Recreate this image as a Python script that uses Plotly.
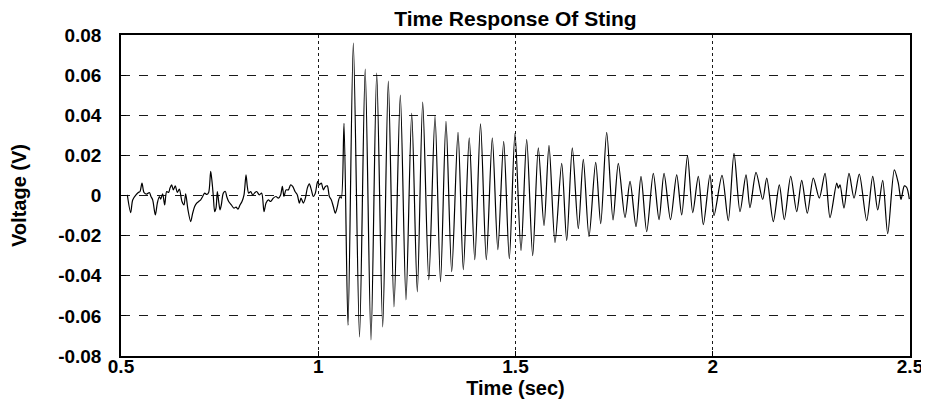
import plotly.graph_objects as go

# Time (s) and voltage (V)
time_noise = [0.516, 0.5245, 0.5296, 0.538, 0.5439, 0.5482, 0.5532, 0.5583, 0.5651, 0.5718,
              0.576, 0.5803, 0.587, 0.5921, 0.5972, 0.6006, 0.6056, 0.6107, 0.6158, 0.6208,
              0.6242, 0.6284, 0.6327, 0.6377, 0.6428, 0.6479, 0.6546, 0.6597, 0.6639, 0.6698,
              0.6766, 0.6817, 0.6867, 0.6918, 0.6969, 0.702, 0.707, 0.7121, 0.7172, 0.7222,
              0.7273, 0.7307, 0.7341, 0.7374, 0.7408, 0.7442, 0.7476, 0.751, 0.7543, 0.7594,
              0.7645, 0.7679, 0.7729, 0.7797, 0.7864, 0.7915, 0.7966, 0.8017, 0.8067, 0.8118,
              0.8169, 0.8202, 0.8236, 0.8287, 0.8338, 0.8397,
              0.8439, 0.8507, 0.8566, 0.8625, 0.8676, 0.8735, 0.8794, 0.8861, 0.8929, 0.8988,
              0.9047, 0.909, 0.9132, 0.9183, 0.9242, 0.9301, 0.9352, 0.9411, 0.947, 0.9521,
              0.9563, 0.9622, 0.9673, 0.9723, 0.9774, 0.9825, 0.9876, 0.9926, 0.9985, 1.0028,
              1.0078, 1.0129, 1.018, 1.023, 1.0281, 1.0332, 1.0382, 1.0433, 1.0484, 1.0518,
              1.0551, 1.0585]
volt_noise = [0.0003, -0.0085, -0.0022, 0.0003, 0.0015, 0.002, 0.0062, 0.0015, 0.0007, 0.0015,
              -0.0005, -0.0022, -0.0097, -0.0038, -0.0005, -0.0018, 0.0008, -0.0047, 0.002, 0.0015,
              0.0037, 0.0053, 0.0028, 0.0048, 0.0015, 0.0032, -0.003, -0.0047, 0.0008, -0.0072,
              -0.013, -0.0088, -0.0055, -0.0038, -0.003, -0.0022, -0.0005, 0.0012, 0.0005, 0.0015,
              0.012, 0.007, -0.0005, -0.008, -0.0063, 0.002, -0.003, -0.0072, -0.0047, 0.0012,
              0.002, -0.0005, -0.003, -0.0047, -0.0063, -0.0058, -0.0068, -0.0047, -0.003, 0.0003,
              0.0103, 0.0045, 0.0012, 0.002, 0.0003, 0.0015,
              0.002, 0.0003, 0.0012, -0.008, -0.0038, -0.0022, -0.003, -0.0013, -0.0005, -0.0013,
              0.0003, 0.0045, -0.0005, 0.0028, 0.0028, 0.0053, 0.0045, 0.002, 0.0003, -0.0038,
              -0.0013, -0.0038, -0.0013, 0.0037, 0.0058, 0.0028, -0.0005, 0.0012, 0.007, 0.0053,
              0.0062, 0.0028, 0.0045, 0.0048, -0.0005, -0.0022, -0.0055, -0.0088, -0.0055, -0.0022,
              -0.0005, -0.0013]

time_ring = [1.0653, 1.0754, 1.0889, 1.1046, 1.119, 1.1337, 1.1482, 1.1634, 1.1776, 1.192,
             1.208, 1.2224, 1.2369, 1.2511, 1.2648, 1.2802, 1.296, 1.3099, 1.3238, 1.3383,
             1.3543, 1.3677, 1.3827, 1.3968, 1.4113, 1.426, 1.4412, 1.4552, 1.4701, 1.4843,
             1.4987, 1.514, 1.5284, 1.5436, 1.5578, 1.5723, 1.5849, 1.6001, 1.6171, 1.6298,
             1.644, 1.6592, 1.6719, 1.6863, 1.7033, 1.716, 1.7312, 1.7472, 1.7606, 1.7776,
             1.7903, 1.8055, 1.8181, 1.8326, 1.8493, 1.8638, 1.8765, 1.8929, 1.9086, 1.9213,
             1.936, 1.9492, 1.9634, 1.9761, 1.993, 2.0032, 2.0235, 2.0394, 2.0539, 2.0691,
             2.0843, 2.0944, 2.1097, 2.1266, 2.1368, 2.1535, 2.1687, 2.1814, 2.1976, 2.2128,
             2.2255, 2.2397, 2.2549, 2.2701, 2.2846, 2.2972, 2.3142, 2.3183, 2.3226, 2.3327,
             2.3454, 2.3581, 2.3715, 2.3903, 2.4055, 2.4182, 2.4308, 2.4435, 2.4603, 2.4704,
             2.4772, 2.4856, 2.4917, 2.4983]
volt_ring = [0.036, -0.0647, 0.076, -0.0705, 0.063, -0.072, 0.061, -0.0655, 0.057, -0.0555,
             0.050, -0.052, 0.041, -0.048, 0.0465, -0.042, 0.0395, -0.043, 0.037, -0.038,
             0.0315, -0.037, 0.0287, -0.032, 0.0357, -0.032, 0.0287, -0.027, 0.027, -0.0315,
             0.031, -0.0275, 0.028, -0.030, 0.0237, -0.015, 0.025, -0.0235, 0.016, -0.0225,
             0.0237, -0.0165, 0.018, -0.0205, 0.0165, -0.014, 0.0315, -0.0122, 0.016, -0.011,
             0.007, -0.0155, 0.0095, -0.018, 0.011, -0.012, 0.011, -0.012, 0.0103, -0.0097,
             0.0198, -0.0085, 0.0095, -0.0145, 0.0103, -0.010, 0.010, -0.0125, 0.021, -0.008,
             0.0103, -0.006, 0.0115, -0.002, 0.0087, -0.013, 0.0053, -0.012, 0.0095, -0.008,
             0.0075, -0.0088, 0.0087, -0.0013, 0.011, -0.011, 0.0062, 0.0037, 0.0053, -0.0063,
             0.011, -0.0013, 0.0107, -0.0125, 0.0095, -0.0072, 0.0075, -0.019, 0.0128, 0.0062,
             -0.002, 0.0048, 0.004, -0.0018]

x_ticks = [0.5, 1, 1.5, 2, 2.5]
x_tick_labels = ["0.5", "1", "1.5", "2", "2.5"]
y_ticks = [-0.08, -0.06, -0.04, -0.02, 0, 0.02, 0.04, 0.06, 0.08]
y_tick_labels = ["-0.08", "-0.06", "-0.04", "-0.02", "0", "0.02", "0.04", "0.06", "0.08"]

time = time_noise + time_ring
volt = volt_noise + volt_ring

FONT = "Liberation Sans, Arial, sans-serif"
tick_font = dict(family=FONT, size=19, color="black", weight="bold")

fig = go.Figure()
fig.add_trace(go.Scatter(x=time, y=volt, mode="lines",
                         line=dict(color="black", width=1.2, shape="spline", smoothing=0.8),
                         showlegend=False, hoverinfo="skip"))

axis_common = dict(showline=True, linecolor="black", linewidth=1.5, mirror=True,
                   ticks="inside", ticklen=5, tickcolor="black", zeroline=False,
                   showgrid=True, gridcolor="#1a1a1a", gridwidth=1,
                   automargin=False, tickfont=tick_font)

fig.update_xaxes(range=[0.5, 2.5], tickvals=x_ticks, ticktext=x_tick_labels,
                 griddash="dot", ticklabelstandoff=-8,
                 title=dict(text="<b>Time (sec)</b>",
                            font=dict(family=FONT, size=20, color="black"), standoff=2),
                 **axis_common)
fig.update_yaxes(range=[-0.08, 0.08], tickvals=y_ticks, ticktext=y_tick_labels,
                 griddash="dash", ticklabelstandoff=14,
                 title=dict(text="<b>Voltage (V)</b>",
                            font=dict(family=FONT, size=20, color="black"), standoff=26),
                 **axis_common)

# the page body adds an 8px offset, so the figure is sized and margined to land
# the plot area at x 121-910, y 35-356 in the 929x403 window
fig.update_layout(
    width=921, height=395,
    margin=dict(l=113, r=19, t=27, b=47, autoexpand=False),
    paper_bgcolor="white", plot_bgcolor="white",
    font=dict(family=FONT, color="black", size=18),
    title=dict(text="<b>Time Response Of Sting</b>", x=0.5, xref="paper", xanchor="center",
               y=0.973, yref="container", yanchor="middle",
               font=dict(family=FONT, size=21, color="black")),
)

fig.write_html("out.html")
